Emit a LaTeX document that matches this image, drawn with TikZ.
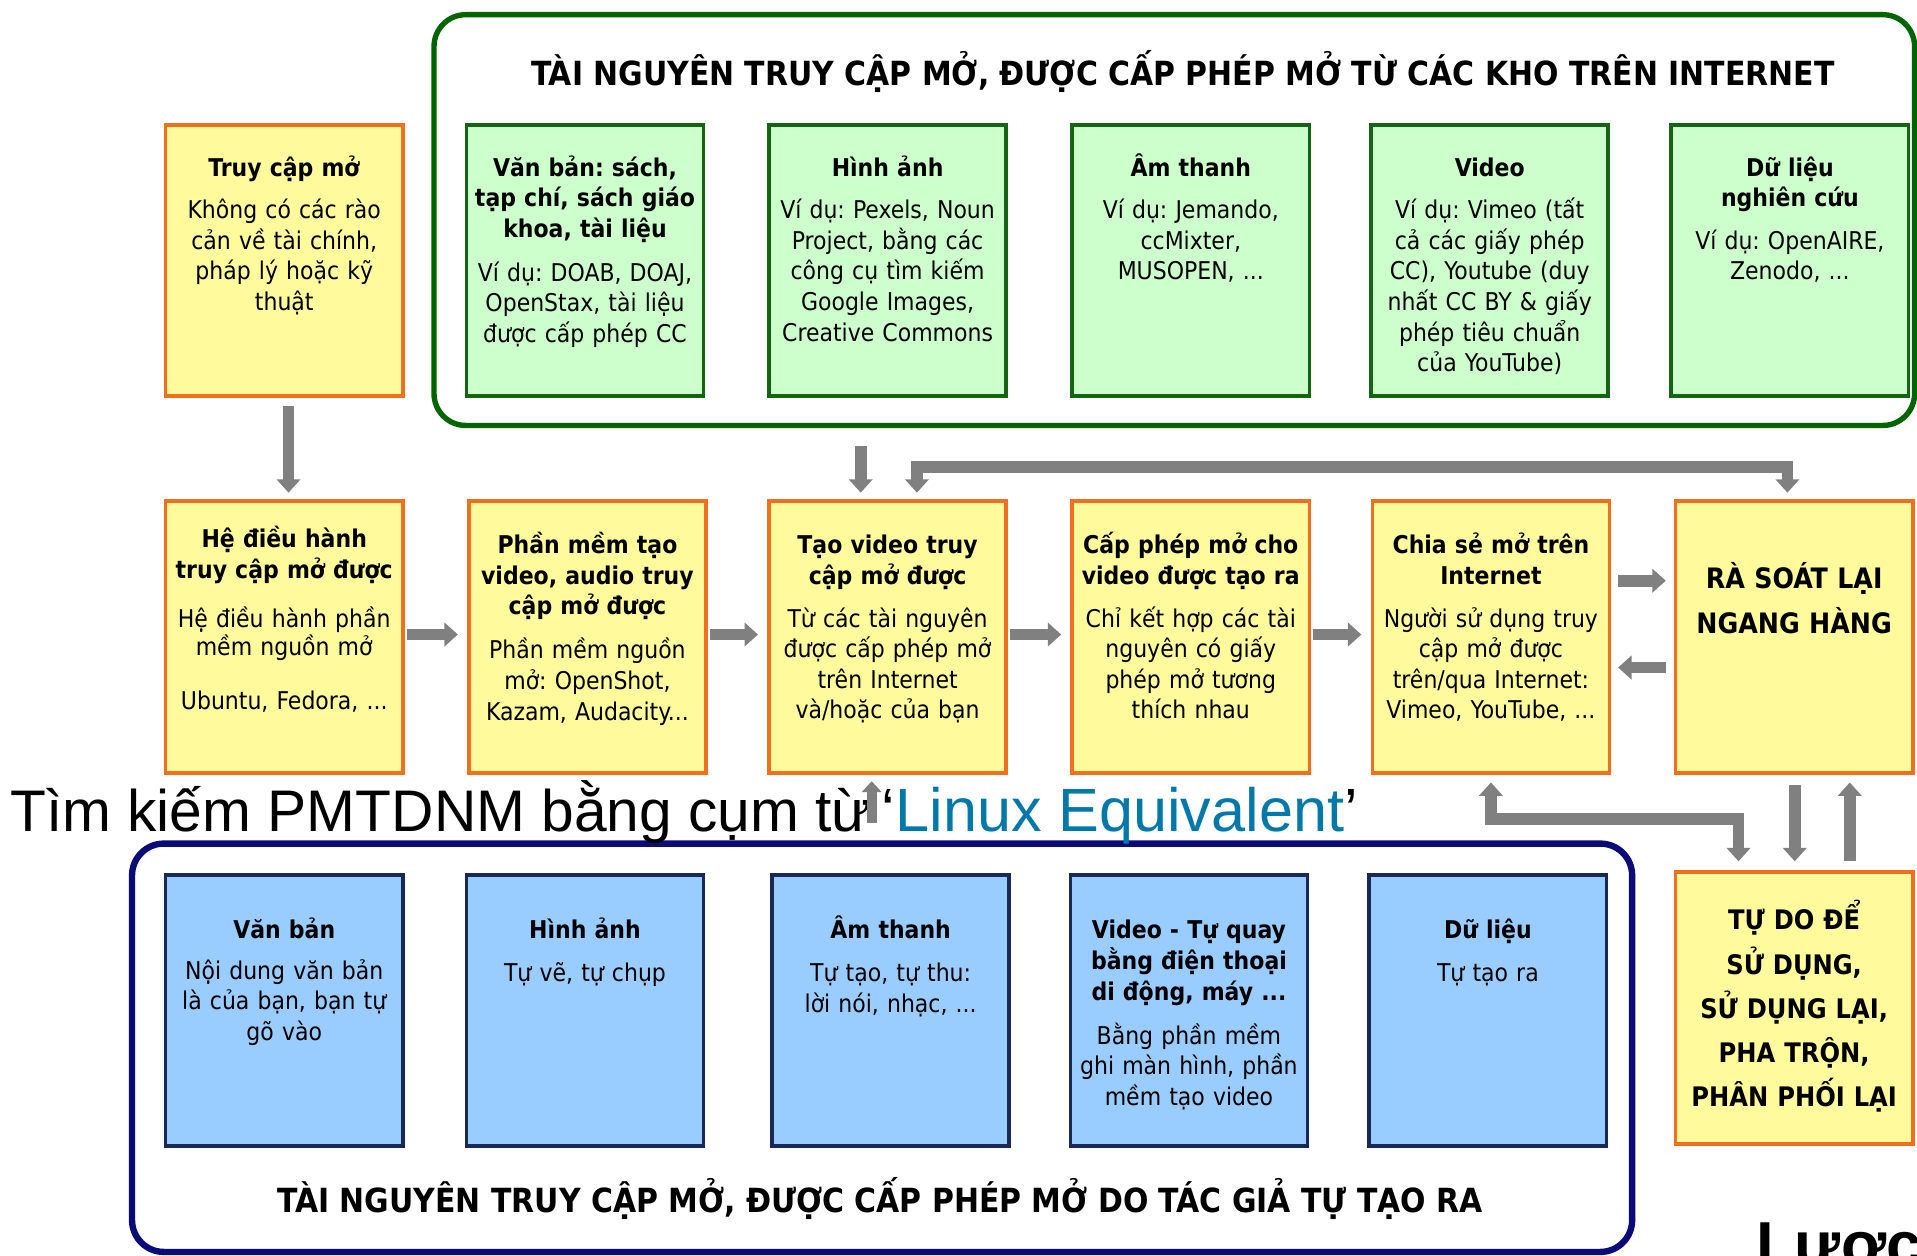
\documentclass[tikz,border=0pt]{standalone}
\usepackage{fontspec}
\setmainfont{DejaVu Sans}
\newfontfamily\dvc{DejaVu Sans Condensed}
\newfontfamily\lib{Liberation Sans}
\usetikzlibrary{arrows.meta,calc}
\definecolor{yfill}{RGB}{255,250,155}
\definecolor{yborder}{RGB}{240,112,32}
\definecolor{gfill}{RGB}{204,255,204}
\definecolor{gborder}{RGB}{20,100,20}
\definecolor{gouter}{RGB}{0,100,0}
\definecolor{bfill}{RGB}{153,204,255}
\definecolor{bborder}{RGB}{25,40,85}
\definecolor{bouter}{RGB}{10,10,120}
\definecolor{arrgray}{RGB}{128,128,128}
\definecolor{linkblue}{RGB}{0,120,170}
\tikzset{
  box/.style={rectangle, minimum width=97pt, minimum height=111pt, line width=1.5pt, inner sep=0pt, outer sep=0pt},
  ybox/.style={box, draw=yborder, fill=yfill},
  gbox/.style={box, draw=gborder, fill=gfill},
  bbox/.style={box, draw=bborder, fill=bfill},
  txt/.style={anchor=base, text width=120pt, align=center, inner sep=0pt, font=\dvc\frenchspacing\fontsize{10pt}{12.5pt}\selectfont},
  captxt/.style={anchor=base, text width=120pt, align=center, inner sep=0pt, font=\dvc\bfseries\fontsize{11.5pt}{18.3pt}\selectfont},
  frame/.style={rectangle, rounded corners=13pt, inner sep=0pt, outer sep=0pt},
  bigtitle/.style={anchor=base, inner sep=0pt, font=\dvc\bfseries\fontsize{13.6pt}{17pt}\selectfont},
  arrtip/.tip={Triangle[width=9.5pt,length=5.5pt]},
  garr/.style={draw=arrgray, line width=4.75pt, -arrtip},
  garrboth/.style={draw=arrgray, line width=4.75pt, arrtip-arrtip},
  garrsmall/.style={draw=arrgray, line width=4pt, -{Triangle[width=8pt,length=4.5pt]}},
}
\begin{document}
\lineskiplimit=-20pt\lineskip=0pt
\frenchspacing
\begin{tikzpicture}[x=0.5pt,y=-0.5pt]
\fill[white] (0,0) rectangle (1568,1027);
\useasboundingbox (0,0) rectangle (1568,1027);

% outer frames
\node[frame, draw=gouter, line width=2.2pt, minimum width=605.5pt, minimum height=168pt] (gout) at (960.5,180) {};
\node[frame, draw=bouter, line width=2.6pt, minimum width=613.5pt, minimum height=167pt] (bout) at (721.5,857) {};

\node[bigtitle] (gtitle) at (967.5,70) {TÀI NGUYÊN TRUY CẬP MỞ, ĐƯỢC CẤP PHÉP MỞ TỪ CÁC KHO TRÊN INTERNET};
\node[bigtitle] (btitle) at (720,992) {TÀI NGUYÊN TRUY CẬP MỞ, ĐƯỢC CẤP PHÉP MỞ DO TÁC GIẢ TỰ TẠO RA};

% top row
\node[ybox] (tc) at (232.5,213) {};
\node[gbox] (g1) at (478.5,213) {};
\node[gbox] (g2) at (726,213) {};
\node[gbox] (g3) at (974,213) {};
\node[gbox] (g4) at (1218.5,213) {};
\node[gbox] (g5) at (1464,213) {};

\node[txt] (tct) at (232.5,144) {\textbf{Truy cập mở}\\[5pt] Không có các rào\\ cản về tài chính,\\ pháp lý hoặc kỹ\\ thuật};
\node[txt] (g1t) at (478.5,144) {\textbf{Văn bản: sách,\\ tạp chí, sách giáo\\ khoa, tài liệu}\\[5.5pt] Ví dụ: DOAB, DOAJ,\\ OpenStax, tài liệu\\ được cấp phép CC};
\node[txt] (g2t) at (726,144) {\textbf{Hình ảnh}\\[5pt] Ví dụ: Pexels, Noun\\ Project, bằng các\\ công cụ tìm kiếm\\ Google Images,\\ Creative Commons};
\node[txt] (g3t) at (974,144) {\textbf{Âm thanh}\\[5pt] Ví dụ: Jemando,\\ ccMixter,\\ MUSOPEN, ...};
\node[txt] (g4t) at (1218.5,144) {\textbf{Video}\\[5pt] Ví dụ: Vimeo (tất\\ cả các giấy phép\\ CC), Youtube (duy\\ nhất CC BY \& giấy\\ phép tiêu chuẩn\\ của YouTube)};
\node[txt] (g5t) at (1464,144) {\textbf{Dữ liệu\\ nghiên cứu}\\[5pt] Ví dụ: OpenAIRE,\\ Zenodo, ...};

% middle row
\node[ybox] (r1) at (232.5,521) {};
\node[ybox] (r2) at (480.5,521) {};
\node[ybox] (r3) at (726,521) {};
\node[ybox] (r4) at (974,521) {};
\node[ybox] (r5) at (1219.5,521) {};
\node[ybox] (r6) at (1467.5,521) {};

\node[txt] (r1t) at (232.5,448) {\textbf{Hệ điều hành\\ truy cập mở được}\\[7.5pt] Hệ điều hành phần\\[-1pt] mềm nguồn mở\\[9.5pt] Ubuntu, Fedora, ...};
\node[txt] (r2t) at (480.5,453) {\textbf{Phần mềm tạo\\ video, audio truy\\ cập mở được}\\[5.5pt] Phần mềm nguồn\\ mở: OpenShot,\\ Kazam, Audacity...};
\node[txt] (r3t) at (726,453) {\textbf{Tạo video truy\\ cập mở được}\\[5pt] Từ các tài nguyên\\ được cấp phép mở\\ trên Internet\\ và/hoặc của bạn};
\node[txt] (r4t) at (974,453) {\textbf{Cấp phép mở cho\\ video được tạo ra}\\[5pt] Chỉ kết hợp các tài\\ nguyên có giấy\\ phép mở tương\\ thích nhau};
\node[txt] (r5t) at (1219.5,453) {\textbf{Chia sẻ mở trên\\ Internet}\\[5pt] Người sử dụng truy\\ cập mở được\\ trên/qua Internet:\\ Vimeo, YouTube, ...};
\node[captxt] (r6t) at (1467.5,481.5) {RÀ SOÁT LẠI\\ NGANG HÀNG};

% bottom row
\node[bbox] (b1) at (232.5,826.5) {};
\node[bbox] (b2) at (478.5,826.5) {};
\node[bbox] (b3) at (728.5,826.5) {};
\node[bbox] (b4) at (972.5,826.5) {};
\node[bbox] (b5) at (1217,826.5) {};
\node[ybox] (tudo) at (1467.5,824.5) {};

\node[txt] (b1t) at (232.5,768) {\textbf{Văn bản}\\[4pt] Nội dung văn bản\\ là của bạn, bạn tự\\ gõ vào};
\node[txt] (b2t) at (478.5,768) {\textbf{Hình ảnh}\\[5pt] Tự vẽ, tự chụp};
\node[txt] (b3t) at (728.5,768) {\textbf{Âm thanh}\\[5pt] Tự tạo, tự thu:\\ lời nói, nhạc, ...};
\node[txt] (b4t) at (972.5,768) {\textbf{Video - Tự quay\\ bằng điện thoại\\ di động, máy ...}\\[5.5pt] Bằng phần mềm\\ ghi màn hình, phần\\ mềm tạo video};
\node[txt] (b5t) at (1217,768) {\textbf{Dữ liệu}\\[5pt] Tự tạo ra};
\node[captxt, font=\dvc\bfseries\fontsize{11pt}{18.1pt}\selectfont] (tudot) at (1467.5,760.5) {TỰ DO ĐỂ\\ SỬ DỤNG,\\ SỬ DỤNG LẠI,\\ PHA TRỘN,\\ PHÂN PHỐI LẠI};

% large texts
\node[anchor=base west, inner sep=0pt, font=\lib\fontsize{24pt}{28pt}\selectfont] (srch) at (8,680) {Tìm kiếm PMTDNM bằng cụm từ};
\node[anchor=base west, inner sep=0pt, font=\lib\fontsize{25pt}{29pt}\selectfont] (lnx) at (721,680) {‘\textcolor{linkblue}{Linux Equivalent}’};
\node[anchor=base west, inner sep=0pt, font=\lib\bfseries\fontsize{26pt}{30pt}\selectfont] (luoc) at (1436,1036) {Lược};

% arrows
\draw[garr, shorten <=4pt, shorten >=3.5pt] ([xshift=1.75pt]tc.south) -- ([xshift=1.75pt]r1.north);
\foreach \a/\b in {r1/r2, r2/r3, r3/r4, r4/r5}
  \draw[garr, shorten <=1.5pt, shorten >=4.5pt] ([yshift=1pt]\a.east) -- ([yshift=1pt]\b.west);
\draw[garr, shorten <=3.5pt, shorten >=4pt] ([yshift=23pt]r5.east) -- ([yshift=23pt]r6.west);
\draw[garr, shorten <=4pt, shorten >=3.5pt] ([yshift=-12.5pt]r6.west) -- ([yshift=-12.5pt]r5.east);
\draw[garr, shorten <=8.5pt, shorten >=3.5pt] ([xshift=-11pt]r3.north |- gout.south) -- ([xshift=-11pt]r3.north);
\draw[garrboth, shorten <=3.5pt, shorten >=3.5pt] ([xshift=12pt]r3.north) -- ++(0,-28) -| ([xshift=-2.75pt]r6.north);
\draw[garrboth, shorten <=4pt, shorten >=4.5pt] (r5.south) -- ++(0,38) -| ([xshift=-22.75pt]tudo.north);
\draw[garr, shorten <=5pt, shorten >=4.5pt] ([xshift=0.25pt]r6.south) -- ([xshift=0.25pt]tudo.north);
\draw[garr, shorten <=4.5pt, shorten >=4pt] ([xshift=22.75pt]tudo.north) -- ([xshift=22.75pt]r6.south);
\coordinate (a13s) at (713,673);
\draw[garrsmall, shorten >=3.5pt] (a13s) -- (a13s |- r3.south);
\end{tikzpicture}
\end{document}
